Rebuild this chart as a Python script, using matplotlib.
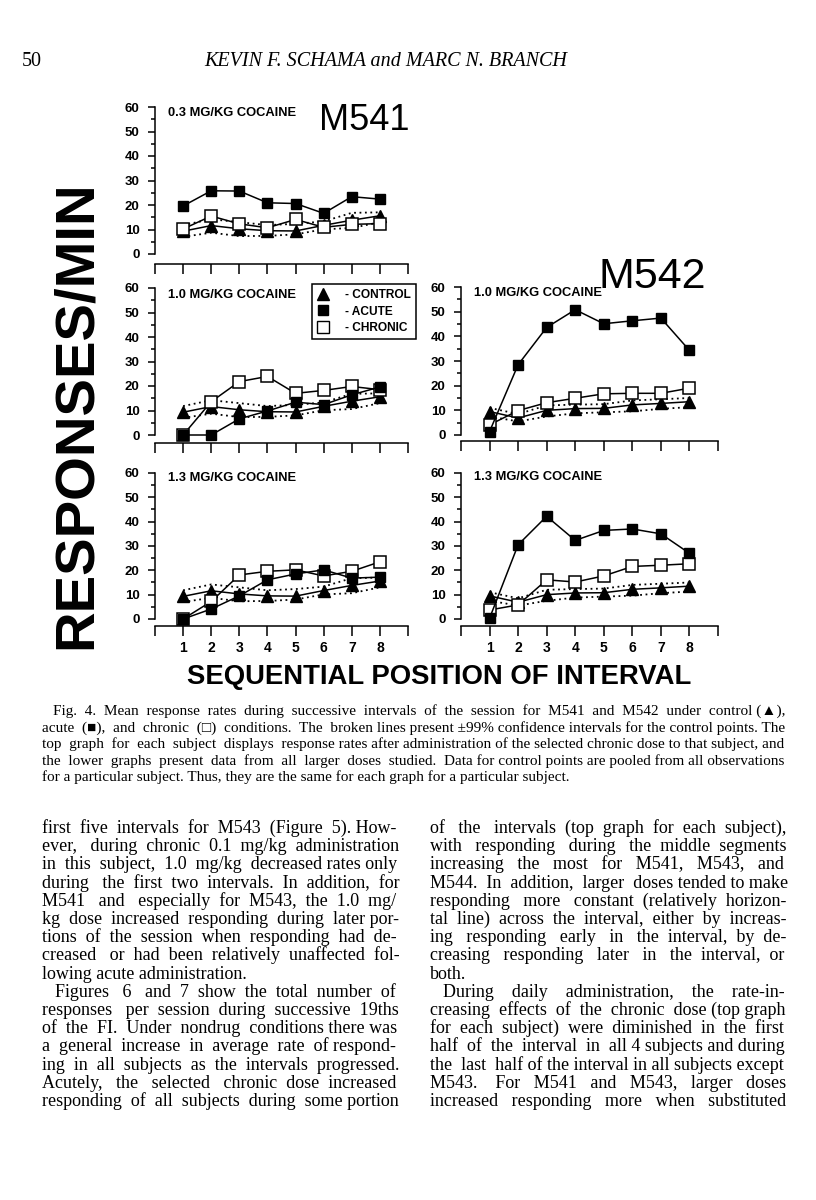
import matplotlib
matplotlib.use("Agg")
import matplotlib.pyplot as plt
from matplotlib.lines import Line2D
from matplotlib.ticker import MultipleLocator

# interval positions
x = [1, 2, 3, 4, 5, 6, 7, 8]

# M541 control (pooled) and 99% confidence band
m541_control = [9.3, 11.6, 10.3, 9.5, 9.4, 11.7, 13.8, 15.6]
m541_ci_hi = [11.8, 14.2, 13.0, 11.8, 12.3, 13.3, 16.8, 17.0]
m541_ci_lo = [7.0, 8.7, 7.3, 7.4, 8.0, 10.1, 10.6, 13.0]
m541_acute_03 = [19.6, 25.8, 25.7, 20.9, 20.6, 16.6, 23.4, 22.4]
m541_chronic_03 = [10.2, 15.5, 12.3, 10.7, 14.1, 10.9, 12.1, 12.4]
m541_acute_10 = [0, 0, 6.6, 9.8, 13.4, 12.4, 16.4, 19.6]
m541_chronic_10 = [0, 13.6, 21.8, 23.9, 17.0, 18.2, 19.8, 18.5]
m541_acute_13 = [0, 4.1, 9.5, 16.1, 18.5, 20.2, 16.8, 17.2]
m541_chronic_13 = [0, 7.2, 18.1, 19.6, 20.2, 17.7, 19.6, 23.5]

# M542
m542_control = [9.5, 6.9, 10.0, 10.7, 10.8, 12.2, 12.8, 13.5]
m542_ci_hi = [11.0, 8.5, 12.0, 12.3, 12.5, 14.0, 14.5, 15.0]
m542_ci_lo = [7.5, 5.5, 7.5, 8.8, 9.2, 9.6, 10.6, 11.3]
m542_acute_10 = [1.4, 28.5, 43.6, 50.8, 45.1, 46.3, 47.4, 34.3]
m542_chronic_10 = [4.1, 9.9, 13.1, 14.9, 16.7, 16.9, 16.9, 19.0]
m542_acute_13 = [0.3, 30.5, 42.2, 32.3, 36.4, 37.0, 35.0, 27.0]
m542_chronic_13 = [3.7, 5.8, 16.1, 15.2, 17.7, 21.6, 22.1, 22.7]

tick_labels = ["", "1", "2", "3", "4", "5", "6", "7", "8", ""]
legend_labels = ["- CONTROL", "- ACUTE", "- CHRONIC"]

caption = [
    "Fig. 4.  Mean response rates during successive intervals of the session for M541 and M542 under control (\u25b2),",
    "acute (\u25a0), and chronic (\u25a1) conditions. The broken lines present \u00b199% confidence intervals for the control points. The",
    "top graph for each subject displays response rates after administration of the selected chronic dose to that subject, and",
    "the lower graphs present data from all larger doses studied. Data for control points are pooled from all observations",
    "for a particular subject. Thus, they are the same for each graph for a particular subject.",
]

left_col = [
    "first five intervals for M543 (Figure 5). How-",
    "ever, during chronic 0.1 mg/kg administration",
    "in this subject, 1.0 mg/kg decreased rates only",
    "during the first two intervals. In addition, for",
    "M541 and especially for M543, the 1.0 mg/",
    "kg dose increased responding during later por-",
    "tions of the session when responding had de-",
    "creased or had been relatively unaffected fol-",
    "lowing acute administration.",
    "Figures 6 and 7 show the total number of",
    "responses per session during successive 19ths",
    "of the FI. Under nondrug conditions there was",
    "a general increase in average rate of respond-",
    "ing in all subjects as the intervals progressed.",
    "Acutely, the selected chronic dose increased",
    "responding of all subjects during some portion",
]

right_col = [
    "of the intervals (top graph for each subject),",
    "with responding during the middle segments",
    "increasing the most for M541, M543, and",
    "M544. In addition, larger doses tended to make",
    "responding more constant (relatively horizon-",
    "tal line) across the interval, either by increas-",
    "ing responding early in the interval, by de-",
    "creasing responding later in the interval, or",
    "both.",
    "During daily administration, the rate-in-",
    "creasing effects of the chronic dose (top graph",
    "for each subject) were diminished in the first",
    "half of the interval in all 4 subjects and during",
    "the last half of the interval in all subjects except",
    "M543. For M541 and M543, larger doses",
    "increased responding more when substituted",
]

W, H = 816, 1200
fig = plt.figure(figsize=(W / 100, H / 100), dpi=100)
fig.patch.set_facecolor("white")
renderer = fig.canvas.get_renderer()

SANS = ["Liberation Sans", "DejaVu Sans"]
SERIF = ["Liberation Serif", "DejaVu Serif"]


def fx(px):
    return px / W


def fy(py):
    return 1 - py / H


def panel(left, right, top, zero, bottom, labels=False):
    ppu = (zero - top) / 60
    ax = fig.add_axes([fx(left), fy(bottom), (right - left) / W, (bottom - top) / H])
    ax.set_xlim(0, 9)
    ax.set_ylim(-(bottom - zero) / ppu, 60)
    ax.spines["top"].set_visible(False)
    ax.spines["right"].set_visible(False)
    ax.spines["left"].set_bounds(0, 60)
    ax.spines["left"].set_linewidth(1.1)
    ax.spines["bottom"].set_linewidth(1.1)
    ax.set_xticks(range(10))
    ax.set_yticks(range(0, 61, 10))
    ax.yaxis.set_minor_locator(MultipleLocator(5))
    ax.tick_params(axis="x", length=7, width=1.1, labelbottom=labels, pad=4)
    ax.tick_params(axis="y", which="major", length=5, width=1.1, pad=6)
    ax.tick_params(axis="y", which="minor", length=3, width=1.1)
    ax.set_yticklabels([str(v) for v in range(0, 61, 10)], fontsize=9.5,
                       fontweight="bold", family=SANS)
    if labels:
        ax.set_xticklabels(tick_labels, fontsize=10, fontweight="bold", family=SANS)
    return ax


def draw(ax, ctrl, hi, lo, acute, chronic):
    dot = (0, (1, 2))
    ax.plot(x, hi, ls=dot, color="k", lw=1.3, zorder=2)
    ax.plot(x, lo, ls=dot, color="k", lw=1.3, zorder=2)
    ax.plot(x, ctrl, "-^", color="k", ms=8, lw=1.1, zorder=3, clip_on=False)
    ax.plot(x, chronic, "-s", color="k", mfc="white", mec="k", mew=1.1, ms=8,
            lw=1.1, zorder=4, clip_on=False)
    ax.plot(x, acute, "-s", color="k", ms=7.5, lw=1.1, zorder=5, clip_on=False)


a1 = panel(155, 408, 107, 254, 264)
a2 = panel(155, 408, 288, 435, 443)
a3 = panel(155, 408, 473, 619, 626, labels=True)
b2 = panel(461, 718, 287, 435, 441)
b3 = panel(461, 718, 473, 619, 626, labels=True)

draw(a1, m541_control, m541_ci_hi, m541_ci_lo, m541_acute_03, m541_chronic_03)
draw(a2, m541_control, m541_ci_hi, m541_ci_lo, m541_acute_10, m541_chronic_10)
draw(a3, m541_control, m541_ci_hi, m541_ci_lo, m541_acute_13, m541_chronic_13)
draw(b2, m542_control, m542_ci_hi, m542_ci_lo, m542_acute_10, m542_chronic_10)
draw(b3, m542_control, m542_ci_hi, m542_ci_lo, m542_acute_13, m542_chronic_13)

# dose titles
ttl = dict(fontsize=9.3, fontweight="bold", family=SANS, va="center", ha="left")
fig.text(fx(168), fy(113), "0.3 MG/KG COCAINE", **ttl)
fig.text(fx(168), fy(295), "1.0 MG/KG COCAINE", **ttl)
fig.text(fx(474), fy(293), "1.0 MG/KG COCAINE", **ttl)
fig.text(fx(168), fy(478), "1.3 MG/KG COCAINE", **ttl)
fig.text(fx(474), fy(477), "1.3 MG/KG COCAINE", **ttl)

fig.text(fx(364), fy(121), "M541", fontsize=26, family=SANS, ha="center", va="center")
fig.text(fx(652), fy(277), "M542", fontsize=31, family=SANS, ha="center", va="center")

# legend
handles = [
    Line2D([], [], ls="none", marker="^", color="k", ms=8),
    Line2D([], [], ls="none", marker="s", color="k", ms=7.5),
    Line2D([], [], ls="none", marker="s", mfc="white", mec="k", ms=8),
]
leg = a2.legend(handles, legend_labels, loc="upper left",
                bbox_to_anchor=(fx(312), fy(284)), bbox_transform=fig.transFigure,
                frameon=True, fancybox=False, edgecolor="black", framealpha=1,
                borderpad=0.4, labelspacing=0.4, handlelength=1.0,
                handletextpad=1.4, borderaxespad=0,
                prop=dict(family=SANS, weight="bold", size=8.6))
leg.get_frame().set_linewidth(1.1)

# axis titles
fig.text(fx(77), fy(415), "RESPONSES/MIN", rotation=90, fontsize=40.5,
         fontweight="bold", family=SANS, ha="center", va="center")
fig.text(fx(439), fy(677), "SEQUENTIAL POSITION OF INTERVAL", fontsize=19.8,
         fontweight="bold", family=SANS, ha="center", va="center")

# page header
fig.text(fx(22), fy(66), "50", fontsize=14.5, family=SERIF, va="baseline")
fig.text(fx(386), fy(66), "KEVIN F. SCHAMA and MARC N. BRANCH", fontsize=14.5,
         family=SERIF, style="italic", ha="center", va="baseline")


def width_of(s, kw):
    t = fig.text(0, 0, s, **kw)
    w = t.get_window_extent(renderer).width
    t.remove()
    return w


def put_line(line, x0, x1, y, justify, kw):
    # one text per line; justify by padding the word gaps with extra spaces
    words = line.split()
    s = " ".join(words)
    if justify and len(words) > 1:
        sp = width_of("a a", kw) - width_of("aa", kw)
        extra = int(round((x1 - x0 - width_of(s, kw)) / sp))
        gaps = len(words) - 1
        extra = max(extra, 0)
        s = words[0]
        for i, w in enumerate(words[1:]):
            n = 1 + extra // gaps + (1 if i < extra % gaps else 0)
            s += " " * n + w
    fig.text(fx(x0), fy(y), s, va="baseline", **kw)


cap_kw = dict(fontsize=11, family=SERIF)
for i, line in enumerate(caption):
    x0 = 53 if i == 0 else 42
    put_line(line, x0, 784, 715 + i * 16.5, i < len(caption) - 1, cap_kw)

body_kw = dict(fontsize=13, family=SERIF)
for col, (cx0, cx1) in ((left_col, (42, 398)), (right_col, (430, 786))):
    for i, line in enumerate(col):
        x0 = cx0 + 13 if i == 9 else cx0
        put_line(line, x0, cx1, 833 + i * 18.2, i != 8, body_kw)

fig.savefig("out.png", dpi=100, facecolor="white")
